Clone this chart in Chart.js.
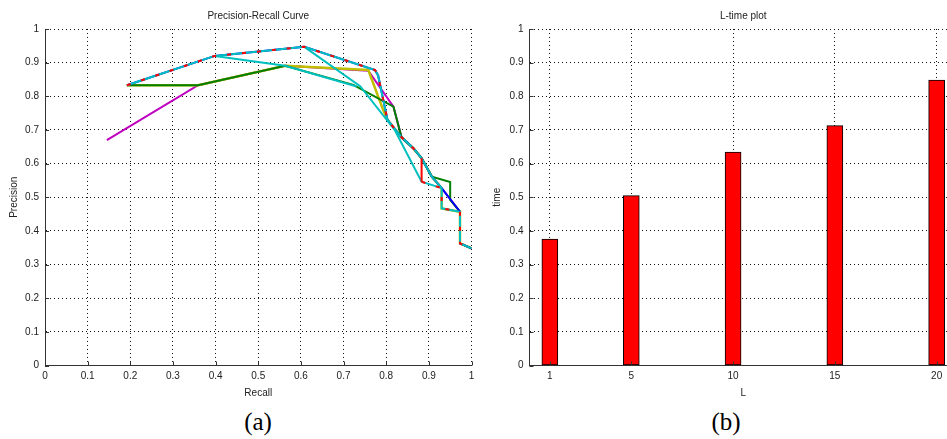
<!DOCTYPE html>
<html><head><meta charset="utf-8">
<script src="https://cdn.jsdelivr.net/npm/chart.js@4/dist/chart.umd.min.js"></script>
<style>
html,body{margin:0;padding:0;background:#fff;overflow:hidden;width:947px;height:439px;}
#wrap{position:relative;width:947px;height:439px;overflow:hidden;background:#fff;}
canvas{position:absolute;top:0;}
#c1{left:0}
#c2{left:480px}
.cap{position:absolute;top:406px;font-family:"Liberation Serif","DejaVu Serif",serif;font-size:25px;line-height:32px;width:80px;text-align:center;color:#000}
</style></head><body>
<div id="wrap">
<canvas id="c1" width="480" height="400"></canvas>
<canvas id="c2" width="480" height="400"></canvas>
<div class="cap" style="left:218px">(a)</div>
<div class="cap" style="left:686px">(b)</div>
</div>
<script>
// ---------- data: (a) Precision-Recall curves ----------
const axisTicks01 = [0,0.1,0.2,0.3,0.4,0.5,0.6,0.7,0.8,0.9,1];

const cyanRecall     = [0.192,0.398,0.608,0.774,0.781,0.803,0.836,0.864,0.883,0.907,0.930,0.930,0.973,0.973,1.000];
const cyanPrecision  = [0.833,0.920,0.947,0.878,0.862,0.730,0.678,0.645,0.616,0.561,0.527,0.467,0.457,0.363,0.348];

const redRecall      = [0.192,0.398,0.608,0.774,0.781,0.803,0.836,0.864,0.883,0.883,0.930,0.930,0.973,0.973,1.000];
const redPrecision   = [0.833,0.920,0.947,0.878,0.862,0.730,0.678,0.645,0.616,0.546,0.527,0.467,0.457,0.363,0.348];

const cyan2Recall    = [0.398,0.563,0.731];
const cyan2Precision = [0.920,0.891,0.829];

const cyan3Recall    = [0.608,0.739,0.820,0.883,0.930];
const cyan3Precision = [0.947,0.830,0.700,0.546,0.527];

const blueRecall     = [0.192,0.398,0.608,0.774,0.781,0.803,0.836,0.864,0.883,0.907,0.930,0.973,0.973,1.000];
const bluePrecision  = [0.833,0.920,0.947,0.878,0.862,0.730,0.678,0.645,0.616,0.561,0.527,0.457,0.363,0.348];

const greenRecall    = [0.192,0.359,0.563,0.723,0.817,0.836,0.864,0.883,0.907,0.950,0.950,0.973,0.973,1.000];
const greenPrecision = [0.833,0.833,0.891,0.834,0.769,0.678,0.645,0.616,0.561,0.545,0.492,0.457,0.363,0.348];

const yellowRecall   = [0.192,0.359,0.563,0.758,0.793,0.803,0.836,0.864,0.883,0.907,0.930,0.930,0.973,0.973,1.000];
const yellowPrecision= [0.833,0.833,0.891,0.878,0.759,0.730,0.678,0.645,0.616,0.561,0.527,0.467,0.457,0.363,0.348];

const magentaRecall   = [0.145,0.359,0.563,0.758,0.817,0.836,0.864,0.883,0.907,0.930,0.973,0.973,1.000];
const magentaPrecision= [0.670,0.833,0.891,0.876,0.769,0.678,0.645,0.616,0.561,0.527,0.457,0.363,0.348];

// ---------- data: (b) L-time bars ----------
const L_values   = [1, 5, 10, 15, 20];
const timeValues = [0.376, 0.505, 0.634, 0.713, 0.848];

// ---------- helpers ----------
const FONT = '"Liberation Sans", Arial, Helvetica, sans-serif';
const TXT = '#222';
const fmt = v => String(Math.round(v * 10) / 10);
const pts = (xs, ys) => xs.map((x, i) => ({x: x, y: ys[i]}));

const inwardTicks = {
  id: 'inwardTicks',
  afterDraw(chart) {
    const {ctx, chartArea} = chart;
    const xs = chart.scales.x, ys = chart.scales.y;
    ctx.save();
    ctx.strokeStyle = '#333';
    ctx.lineWidth = 1;
    ctx.setLineDash([]);
    ctx.beginPath();
    xs.ticks.forEach(t => {
      const px = Math.round(xs.getPixelForValue(t.value)) + 0.5;
      ctx.moveTo(px, chartArea.bottom); ctx.lineTo(px, chartArea.bottom - 4);
    });
    ys.ticks.forEach(t => {
      const py = Math.round(ys.getPixelForValue(t.value)) + 0.5;
      ctx.moveTo(chartArea.left, py); ctx.lineTo(chartArea.left + 4, py);
    });
    ctx.stroke();
    ctx.restore();
  }
};

function axisCommon(titleText, titlePad) {
  return {
    grid: {color: '#111', lineWidth: 1, drawTicks: false},
    border: {display: true, color: '#333', width: 1, dash: [1, 3]},
    ticks: {color: TXT, font: {family: FONT, size: 10}, autoSkip: false, maxRotation: 0},
    title: {display: true, text: titleText, color: TXT, font: {family: FONT, size: 10}, padding: titlePad}
  };
}

function lineDs(xs, ys, color, extra) {
  return Object.assign({
    data: pts(xs, ys), showLine: true, borderColor: color, backgroundColor: color,
    borderWidth: 2, pointRadius: 0, tension: 0, fill: false
  }, extra || {});
}

// ---------- chart (a) ----------
const ax = axisCommon('Recall', {top: 0, bottom: 1});
ax.type = 'linear'; ax.min = 0; ax.max = 1;
ax.ticks.stepSize = 0.1; ax.ticks.padding = 5; ax.ticks.callback = v => fmt(v);
ax.afterBuildTicks = s => { s.ticks = axisTicks01.map(v => ({value: v})); };
ax.afterFit = s => { s.height = 34.5; };

const ay = axisCommon('Precision', {top: 8, bottom: 0});
ay.type = 'linear'; ay.min = 0; ay.max = 1;
ay.ticks.stepSize = 0.1; ay.ticks.padding = 6; ay.ticks.callback = v => fmt(v);
ay.afterBuildTicks = s => { s.ticks = axisTicks01.map(v => ({value: v})); };
ay.afterFit = s => { s.width = 45; };

new Chart(document.getElementById('c1'), {
  type: 'scatter',
  data: {
    datasets: [
      lineDs(redRecall, redPrecision, '#ff0000', {
        borderDash: [4, 11],
        segment: {borderDash: c => (c.p0DataIndex === 8 ? [] : undefined)}
      }),
      lineDs(cyanRecall, cyanPrecision, '#00bfbf'),
      lineDs(cyan2Recall, cyan2Precision, '#00bfbf'),
      lineDs(cyan3Recall, cyan3Precision, '#00bfbf'),
      lineDs(blueRecall, bluePrecision, '#0000ff'),
      lineDs(greenRecall, greenPrecision, '#008000'),
      lineDs(yellowRecall, yellowPrecision, '#bfbf00', {borderWidth: 2.5}),
      lineDs(magentaRecall, magentaPrecision, '#bf00bf')
    ]
  },
  options: {
    responsive: false, animation: false, devicePixelRatio: 1, events: [],
    layout: {padding: {left: 0, right: 8.5, top: 0, bottom: 0}},
    plugins: {
      legend: {display: false}, tooltip: {enabled: false},
      title: {display: true, fullSize: false, text: 'Precision-Recall Curve', color: TXT,
              font: {family: FONT, size: 10, weight: 'normal'}, padding: {top: 10, bottom: 7}}
    },
    scales: {x: ax, y: ay}
  },
  plugins: [inwardTicks]
});

// ---------- chart (b) ----------
const bx = axisCommon('L', {top: 0, bottom: 1});
bx.type = 'linear'; bx.min = 0; bx.max = 21; bx.offset = false;
bx.grid.offset = false;
bx.ticks.padding = 5; bx.ticks.callback = v => String(v);
bx.afterBuildTicks = s => { s.ticks = L_values.map(v => ({value: v})); };
bx.afterFit = s => { s.height = 34.5; };

const by = axisCommon('time', {top: 11, bottom: 0});
by.type = 'linear'; by.min = 0; by.max = 1;
by.ticks.stepSize = 0.1; by.ticks.padding = 6; by.ticks.callback = v => fmt(v);
by.afterBuildTicks = s => { s.ticks = axisTicks01.map(v => ({value: v})); };
by.afterFit = s => { s.width = 49.5; };

new Chart(document.getElementById('c2'), {
  type: 'bar',
  data: {
    datasets: [{
      data: pts(L_values, timeValues),
      backgroundColor: '#ff0000', borderColor: '#000', borderWidth: 1,
      borderSkipped: false, barThickness: 16
    }]
  },
  options: {
    responsive: false, animation: false, devicePixelRatio: 1, events: [],
    layout: {padding: {left: 0, right: 3, top: 0, bottom: 0}},
    plugins: {
      legend: {display: false}, tooltip: {enabled: false},
      title: {display: true, fullSize: false, text: 'L-time plot', color: TXT,
              font: {family: FONT, size: 10, weight: 'normal'}, padding: {top: 10, bottom: 7}}
    },
    scales: {x: bx, y: by}
  },
  plugins: [inwardTicks]
});
</script>
</body></html>
